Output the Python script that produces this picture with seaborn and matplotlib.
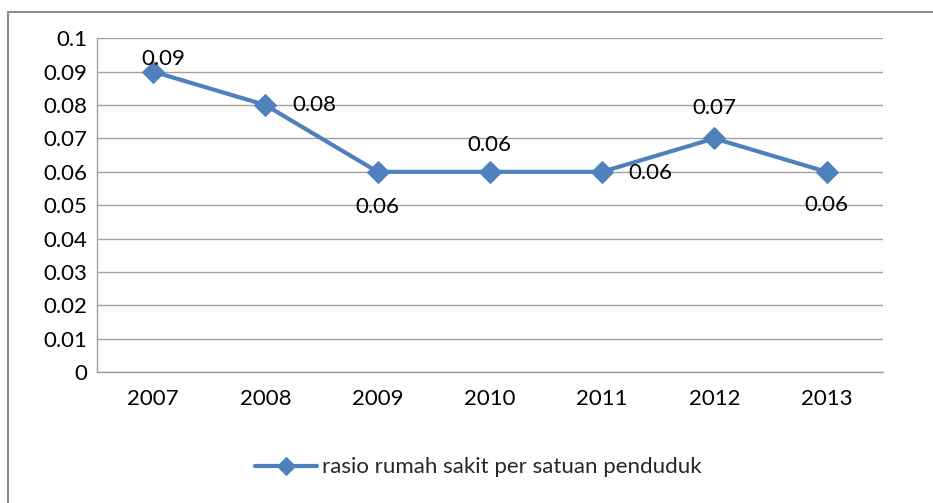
import pandas as pd
import matplotlib.pyplot as plt
import seaborn as sns
from matplotlib.patches import Rectangle

tahun = ['2007', '2008', '2009', '2010', '2011', '2012', '2013']
rasio = [0.09, 0.08, 0.06, 0.06, 0.06, 0.07, 0.06]
label_seri = 'rasio rumah sakit per satuan penduduk'

df = pd.DataFrame({'tahun': tahun, 'rasio': rasio})

sns.set_style('white')
plt.rcParams['font.family'] = ['Lato', 'DejaVu Sans']

biru = '#4F81BD'
fig = plt.figure(figsize=(9.33, 5.03), dpi=100)
ax = fig.add_axes([0.104, 0.260, 0.842, 0.664])

sns.lineplot(data=df, x='tahun', y='rasio', ax=ax, color=biru, linewidth=3,
             marker='D', markersize=11, markeredgecolor=biru, label=label_seri,
             sort=False)

ax.set_xlim(-0.5, 6.5)
ax.set_ylim(0, 0.1)
ax.set_yticks([i / 100 for i in range(11)])
ax.set_yticklabels(['0'] + ['%.2f' % (i / 100) for i in range(1, 10)] + ['0.1'])
ax.yaxis.grid(True, color='#A0A0A0', linewidth=1)
ax.set_xlabel('')
ax.set_ylabel('')
for s in ['top', 'right']:
    ax.spines[s].set_visible(False)
for s in ['left', 'bottom']:
    ax.spines[s].set_color('#A0A0A0')
    ax.spines[s].set_linewidth(1)
ax.tick_params(axis='both', length=0, labelsize=16, colors='black')
ax.tick_params(axis='x', pad=12)
ax.tick_params(axis='y', pad=7)

# posisi label data (offset dalam poin)
offset = [(7, 9), (35, 0), (0, -25), (0, 19), (35, -1), (0, 22), (0, -24)]
for i, (v, off) in enumerate(zip(rasio, offset)):
    ax.annotate('%.2f' % v, (i, v), xytext=off, textcoords='offset points',
                ha='center', va='center', fontsize=16, color='black')

leg = ax.legend(loc='upper center', bbox_to_anchor=(0.485, -0.195), frameon=False,
                fontsize=16, handlelength=2.8, handletextpad=0.2)
for h in leg.legend_handles:
    h.set_markersize(9)

fig.patches.append(Rectangle((8 / 933, -0.1), 1.2, 1 - 12 / 503 + 0.1,
                             transform=fig.transFigure, fill=False,
                             edgecolor='#8C8C8C', linewidth=1.5))

fig.savefig('out.png', dpi=100)
